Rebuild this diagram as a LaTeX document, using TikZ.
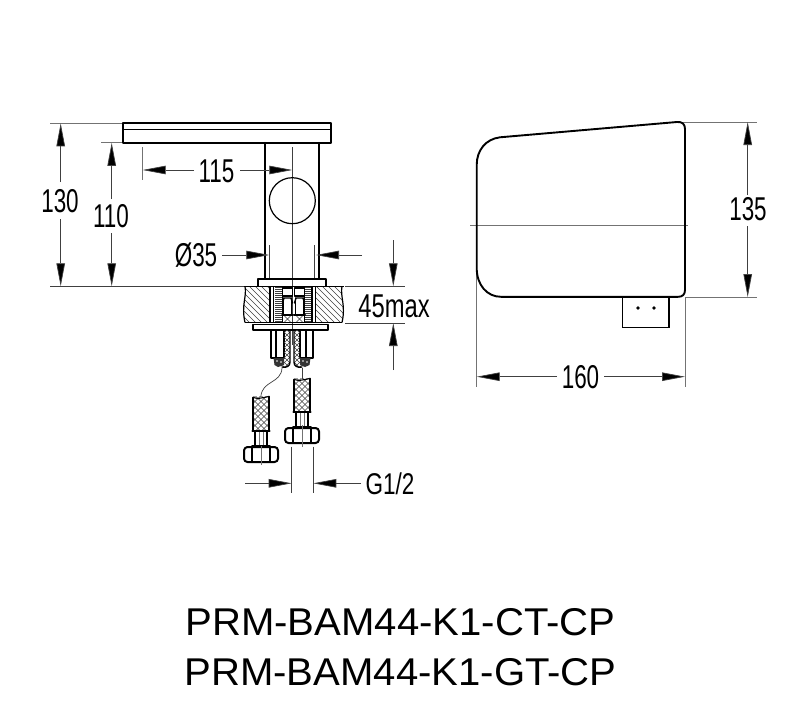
\documentclass[tikz,border=0pt]{standalone}
\usepackage{fontspec}
\usepackage{graphicx}
\setmainfont{Liberation Sans}
\usetikzlibrary{arrows.meta}
\newcommand{\dimlabel}[1]{\scalebox{0.68}[1]{\fontsize{33}{33}\selectfont #1}}
\newcommand{\hosepart}[3]{% #1 centre x, #2 hose top, #3 hose bottom
  \begin{scope}
    \clip (#1-8,#2-1) rectangle (#1+8,#3);
    \foreach \k in {-30,-24,...,42} {
      \draw[hatchthin] (#1-10,#2+\k) -- ++(20,20);
      \draw[hatchthin] (#1+10,#2+\k) -- ++(-20,20);
    }
  \end{scope}
  \draw[thickl] (#1-8,#2) -- (#1-8,#3+1) (#1+8,#2-1) -- (#1+8,#3+1);
  \draw[thickl,line width=1.1pt] (#1-8,#2) -- (#1-3,#2+1) -- (#1+3,#2) -- (#1+8,#2-1);
  \draw[thickl,line width=2.4pt] (#1-8.5,#3+1) -- (#1+8.5,#3+1);
  \draw[thickl,line width=1.6pt] (#1-6,#3+2) -- (#1-6,#3+15.5) (#1+6,#3+2) -- (#1+6,#3+15.5);
  \draw[thickl,line width=1.8pt] (#1-9,#3+16) -- (#1+9,#3+16);
  \draw[thickl,line width=2pt,rounded corners=3.5pt,fill=white] (#1-17,#3+17) rectangle (#1+17,#3+32);
  \draw[thickl,line width=1.3pt] (#1-9,#3+17) -- (#1-9,#3+32) (#1+9,#3+17) -- (#1+9,#3+32);
  \draw[extl] (#1-1.5,#3+2) -- (#1-1.5,#3+15) (#1+2.5,#3+2) -- (#1+2.5,#3+15);
}
\tikzset{
  thickl/.style={line width=1.9pt,black,line cap=round,line join=round},
  midl/.style={line width=1.2pt,black},
  thinl/.style={line width=0.7pt,black!75},
  extl/.style={line width=0.7pt,black!55},
  hatchthin/.style={line width=0.55pt,black!75},
  dimtip/.style={-{Triangle[length=23pt,width=8.5pt,fill=black]},line width=0.7pt,black!75},
  lab/.style={inner sep=0pt,anchor=center},
  title/.style={inner sep=0pt,anchor=center}
}
\newcommand{\titletxt}[1]{\scalebox{1.036}[1]{\fontsize{38.7}{40}\selectfont #1}}
\begin{document}
\begin{tikzpicture}[x=1pt,y=-1pt]
\useasboundingbox (0,0) rectangle (797,717);
\fill[white] (0,0) rectangle (797,717);

% centre lines and extension lines of the front view
\draw[thinl] (292.3,147) -- (292.3,345);
\draw[extl] (50,123.3) -- (122,123.3);
\draw[extl] (101,142.8) -- (123,142.8);
\draw[thinl] (50,286.3) -- (244,286.3);
\draw[thinl] (345,286.3) -- (405,286.3);
\draw[thinl] (345,323) -- (405,323);
\draw[extl] (142.7,147) -- (142.7,180);
\draw[thinl] (269.3,245) -- (269.3,279);
\draw[thinl] (314.3,245) -- (314.3,279);

% spout plate and column
\draw[thickl] (123,123.3) rectangle (331,142.8);
\draw[thickl] (123,129.5) -- (331,129.5);
\draw[thickl] (265,142.8) -- (265,279);
\draw[thickl] (319.3,142.8) -- (319.3,279);
\draw[midl] (292.3,200.7) circle[radius=23];
\draw[thickl] (258,286) -- (258,279) -- (326,279) -- (326,286);

% counter section: hatching
\begin{scope}
  \clip (245,286.3) .. controls (247,297) and (241,305) .. (245,322.5) -- (270,322.5) -- (270,286.3) -- cycle;
  \foreach \k in {-40,-34,...,90} \draw[hatchthin] (235+\k,286) -- ++(45,45);
\end{scope}
\begin{scope}
  \clip (315,286.3) -- (342,286.3) .. controls (340,297) and (346,305) .. (342,322.5) -- (315,322.5) -- cycle;
  \foreach \k in {-40,-34,...,90} \draw[hatchthin] (290+\k,286) -- ++(45,45);
\end{scope}
\draw[midl] (245,286.3) .. controls (247,297) and (241,305) .. (245,322.5);
\draw[midl] (342,286.3) .. controls (340,297) and (346,305) .. (342,322.5);
\draw[midl] (244,286.3) -- (344,286.3);
\draw[midl] (245,322.7) -- (342,322.7);

% inner section
\draw[thickl,line cap=butt] (270,286) -- (270,323) (273.5,286) -- (273.5,323);
\draw[thickl,line cap=butt] (312,286) -- (312,323) (315.5,286) -- (315.5,323);
\foreach \yy in {287.5,289.5,...,322} {
  \draw[hatchthin,line width=0.8pt] (275,\yy) -- (282,\yy);
  \draw[hatchthin,line width=0.8pt] (305,\yy) -- (311,\yy);
}
\draw[midl] (282.5,286) -- (282.5,323) (304.5,286) -- (304.5,323);
\foreach \cx in {287.5,299.5} {
  \draw[thickl,line width=1.4pt] (\cx-5,288) rectangle (\cx+5,296);
  \draw[thickl,line width=1.4pt] (\cx-5,303) -- (\cx-3.5,298) -- (\cx+3.5,298) -- (\cx+5,303);
  \draw[thickl,line width=1.4pt] (\cx-4,298) -- (\cx-4,314) (\cx+4,298) -- (\cx+4,314);
  \draw[thickl,line width=2pt] (\cx-5.5,314.5) -- (\cx+5.5,314.5);
  \draw[hatchthin] (\cx-3,316) -- (\cx+3,322) (\cx+3,316) -- (\cx-3,322);
}
% plate under counter
\draw[thickl,line width=1.6pt] (252.7,324.5) rectangle (328,330);
\fill (252.7,323.5) rectangle (328,325.3);

% connection bodies
\draw[thickl] (270.7,330) -- (270.7,358) -- (284,358);
\draw[midl] (276,330) -- (276,358);
\draw[thickl] (284,330) -- (284,358);
\draw[thickl] (313,330) -- (313,358) -- (300,358);
\draw[midl] (306,330) -- (306,358);
\draw[thickl] (300,330) -- (300,358);
\fill[black!80] (273.5,358) -- (284,358) -- (284,365) -- (278,367) -- (274.5,365) -- cycle;
\fill[black!80] (310.5,358) -- (300,358) -- (300,365) -- (305,367) -- (309.5,365) -- cycle;
\foreach \dx/\dy in {277/361,281/362,303/361,307/362} \fill[white] (\dx,\dy) circle[radius=0.8];
% flexible hoses inside
\begin{scope}
  \clip (284,330) -- (290,330) -- (290,362) .. controls (290,366) and (287,368) .. (282,367) -- (284,358) -- cycle;
  \foreach \k in {-10,-5,...,44} {
    \draw[hatchthin] (282,330+\k) -- ++(10,10);
    \draw[hatchthin] (292,330+\k) -- ++(-10,10);
  }
\end{scope}
\draw[thickl,line width=1.4pt] (290,330) -- (290,362) .. controls (290,366) and (287,368) .. (282,367);
\begin{scope}
  \clip (294,330) -- (300,330) -- (300,358) -- (302,367) .. controls (297,368) and (294,366) .. (294,362) -- cycle;
  \foreach \k in {-10,-5,...,44} {
    \draw[hatchthin] (292,330+\k) -- ++(10,10);
    \draw[hatchthin] (302,330+\k) -- ++(-10,10);
  }
\end{scope}
\draw[thickl,line width=1.4pt] (294,330) -- (294,362) .. controls (294,366) and (297,368) .. (302,367);

% thin leads to hoses
\draw[thinl] (282,368) .. controls (281,384) and (262,380) .. (260.8,397);
\draw[thinl] (302.3,368) -- (302.3,379);

% supply hoses
\hosepart{261}{397.5}{430}
\hosepart{302}{379.5}{411}
\draw[extl] (261,446) -- (261,465);
\draw[extl] (302,425) -- (302,447);

% dimension lines
\draw[thinl] (291.7,446.7) -- (291.7,492.7);
\draw[thinl] (313.3,446.7) -- (313.3,492.7);

% 130
\draw[dimtip] (60.7,182) -- (60.7,123.3);
\draw[dimtip] (60.7,219) -- (60.7,286.3);
\node[lab] (t130) at (60,201.5) {\dimlabel{130}};
% 110
\draw[dimtip] (111.7,199) -- (111.7,142.8);
\draw[dimtip] (111.7,233) -- (111.7,286.3);
\node[lab] (t110) at (111,216) {\dimlabel{110}};
% 115
\draw[dimtip] (194,170) -- (142.7,170);
\draw[dimtip] (240,170) -- (292.3,170);
\node[lab] (t115) at (216.5,171) {\dimlabel{115}};
% dia 35
\draw[dimtip] (222,255) -- (269.3,255);
\draw[dimtip] (362,255) -- (316,255);
\node[lab] (t35) at (196,255.5) {\dimlabel{Ø35}};
% 45max
\draw[dimtip] (393.3,240) -- (393.3,286.3);
\draw[dimtip] (393.3,370) -- (393.3,323);
\node[lab] (t45) at (394,306) {\scalebox{0.72}[1]{\fontsize{33}{33}\selectfont 45max}};
% G1/2
\draw[dimtip] (245,483.3) -- (291.7,483.3);
\draw[dimtip] (361,483.3) -- (313.3,483.3);
\node[lab] (tg) at (390,484) {\scalebox{0.75}[1]{\fontsize{30}{30}\selectfont G1/2}};

% side view
\draw[extl] (470,225.7) -- (688,225.7);
\draw[extl] (680,122) -- (757,122);
\draw[extl] (685,297) -- (757,297);
\draw[extl] (476.7,270) -- (476.7,387);
\draw[extl] (685,297) -- (685,387);
\draw[thickl] (500,137.3) -- (677,122)
  .. controls (682,121.5) and (685,124) .. (685,129)
  -- (685,290)
  .. controls (685,295) and (682,296.8) .. (678,296.8)
  -- (501,296.8)
  .. controls (487,296.8) and (476.7,285) .. (476.7,268)
  -- (476.7,165)
  .. controls (476.7,150) and (486,139) .. (500,137.3) -- cycle;
\draw[midl] (622.7,297) -- (622.7,327.7) -- (669,327.7) -- (669,297);
\fill (638,308) circle[radius=1.9];
\fill (654,308) circle[radius=1.9];
% 135
\draw[dimtip] (747.7,195) -- (747.7,122);
\draw[dimtip] (747.7,226) -- (747.7,297);
\node[lab] (t135) at (748,209.5) {\dimlabel{135}};
% 160
\draw[dimtip] (557,376.7) -- (476.7,376.7);
\draw[dimtip] (604,376.7) -- (685,376.7);
\node[lab] (t160) at (580.5,377.5) {\dimlabel{160}};

% titles
\node[title] (m1) at (400.5,622) {\titletxt{PRM-BAM44-K1-CT-CP}};
\node[title] (m2) at (400.5,672.5) {\titletxt{PRM-BAM44-K1-GT-CP}};
\end{tikzpicture}
\end{document}
